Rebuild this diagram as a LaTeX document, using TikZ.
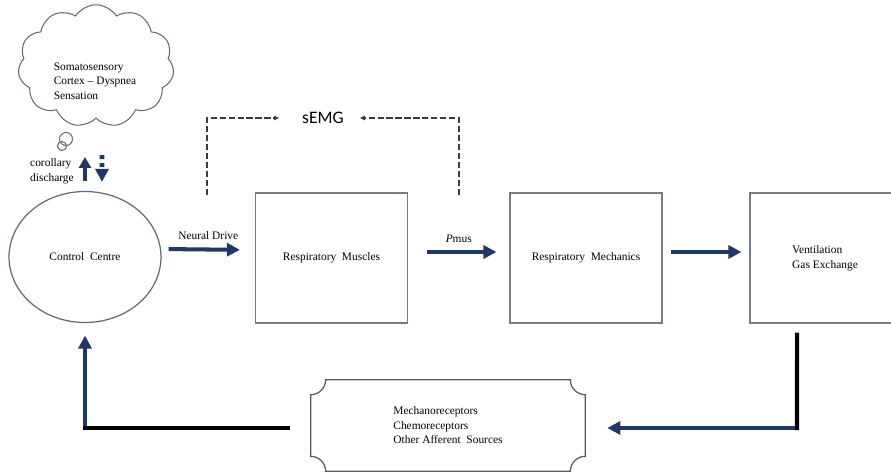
\documentclass[tikz,border=0pt]{standalone}
\usepackage{fontspec}
\setmainfont{Liberation Serif}
\newfontfamily\emgfont{Carlito}
\usetikzlibrary{shapes.symbols,shapes.geometric,arrows.meta}
\usepackage{xcolor}
\definecolor{drivenavy}{RGB}{31,56,100}
\definecolor{boxgray}{RGB}{118,124,136}
\definecolor{ovalgray}{RGB}{96,106,128}
\definecolor{dashgray}{RGB}{60,60,60}

\begin{document}
\begin{tikzpicture}[x=0.02cm, y=-0.02cm,
    txt/.style={font=\fontsize{6.5}{8.3}\selectfont, align=left},
    block/.style={rectangle, draw=boxgray, line width=0.7pt, minimum width=3.04cm,
                  minimum height=2.6cm, inner sep=0pt, txt},
    flow/.style={draw=drivenavy, line width=2.3pt, -{Triangle[length=0.26cm,width=0.26cm]}},
    feed/.style={draw=black, line width=2.3pt, line cap=rect},
    emgline/.style={draw=dashgray, dash pattern=on 3.5pt off 1.6pt, line width=0.6pt,
                    -{Triangle[length=0.1cm,width=0.09cm]}},
    bubble/.style={circle, draw=ovalgray, line width=0.6pt, inner sep=0pt, minimum size=#1}
]

\useasboundingbox (0,0) rectangle (891,473);
\clip (0,0) rectangle (891,473);

\def\rr{15}
\def\kk{8.3}

% thought cloud
\node[cloud, cloud puffs=11, cloud puff arc=115, draw=ovalgray, line width=0.6pt,
      minimum width=3.12cm, minimum height=2.45cm] (cortex) at (96,66) {};
\node[txt] (cortexlbl) at (95,81) {Somatosensory\\Cortex -- Dyspnea\\Sensation};
\node[bubble=0.26cm] (bubbleA) at (66,139) {};
\node[bubble=0.18cm] (bubbleB) at (62,146) {};

% main chain
\node[ellipse, draw=ovalgray, line width=0.7pt, minimum width=3.04cm, minimum height=2.62cm,
      inner sep=0pt, txt] (ctrl) at (85,257) {Control~~Centre};
\node[block] (muscles) at (331.5,258) {Respiratory~~Muscles};
\node[block] (mechanics) at (586,258) {Respiratory~~Mechanics};
\node[block, minimum width=3.0cm] (vent) at (825,258) {Ventilation\\Gas Exchange};
\node[rectangle, minimum width=5.48cm, minimum height=1.82cm, txt] (affer) at (448,425.5)
     {Mechanoreceptors\\Chemoreceptors\\Other Afferent~~Sources};

\node[font=\emgfont\fontsize{10}{12}\selectfont] (semg) at (323,118) {sEMG};
\node[txt, anchor=west] (corlbl) at (24,171) {corollary\\discharge};

\coordinate (dischargeUp) at (85,157);
\coordinate (dischargeTop) at (102,155);
\coordinate (emgL) at (207,195);
\coordinate (emgR) at (459,195);
\coordinate (ventDrop) at (797,428);
\coordinate (ctrlRise) at (85,428);

% plaque outline
\draw[draw=black!65, line width=0.7pt]
  ([shift={(\rr,0)}]affer.north west) -- ([shift={(-\rr,0)}]affer.north east)
  .. controls ([shift={(-\rr,\kk)}]affer.north east) and ([shift={(-\kk,\rr)}]affer.north east) .. ([shift={(0,\rr)}]affer.north east)
  -- ([shift={(0,-\rr)}]affer.south east)
  .. controls ([shift={(-\kk,-\rr)}]affer.south east) and ([shift={(-\rr,-\kk)}]affer.south east) .. ([shift={(-\rr,0)}]affer.south east)
  -- ([shift={(\rr,0)}]affer.south west)
  .. controls ([shift={(\rr,-\kk)}]affer.south west) and ([shift={(\kk,-\rr)}]affer.south west) .. ([shift={(0,-\rr)}]affer.south west)
  -- ([shift={(0,\rr)}]affer.north west)
  .. controls ([shift={(\kk,\rr)}]affer.north west) and ([shift={(\rr,\kk)}]affer.north west) .. cycle;

% forward arrows
\draw[flow, shorten <=0.14cm, shorten >=0.3cm] ([yshift=0.16cm]ctrl.east) -- ([yshift=0.16cm]muscles.west)
    node[midway, above=1pt, txt] (ndlbl) {Neural Drive};
\draw[flow, shorten <=0.38cm, shorten >=0.26cm] ([yshift=0.12cm]muscles.east) -- ([yshift=0.12cm]mechanics.west)
    node[midway, above=1pt, txt] (pmuslbl) {\textit{P}mus};
\draw[flow, shorten <=0.16cm, shorten >=0.16cm] ([yshift=0.12cm]mechanics.east) -- ([yshift=0.12cm]vent.west);

% sEMG taps
\draw[emgline, shorten >=0.34cm] (emgL) |- (semg.west);
\draw[emgline, shorten >=0.2cm] (emgR) |- (semg.east);

% corollary discharge
\draw[drivenavy, line width=2.6pt, shorten <=0.2cm, -{Triangle[length=0.22cm,width=0.24cm]}] (ctrl.north) -- (dischargeUp);
\draw[drivenavy, line width=2.8pt, dash pattern=on 2.3pt off 2.3pt, shorten >=0.18cm,
      -{Triangle[length=0.26cm,width=0.26cm]}] (dischargeTop) -- ([xshift=0.34cm]ctrl.north);

% feedback loop
\draw[flow, shorten >=0.44cm] (ventDrop) -- (affer.east |- ventDrop);
\draw[feed, shorten <=0.22cm] ([xshift=-0.56cm]vent.south) -- (ventDrop);
\draw[flow, shorten >=0.25cm] (ctrlRise) -- (ctrl.south);
\draw[feed, shorten <=0.46cm] (affer.west |- ctrlRise) -- (ctrlRise);

\end{tikzpicture}
\end{document}
